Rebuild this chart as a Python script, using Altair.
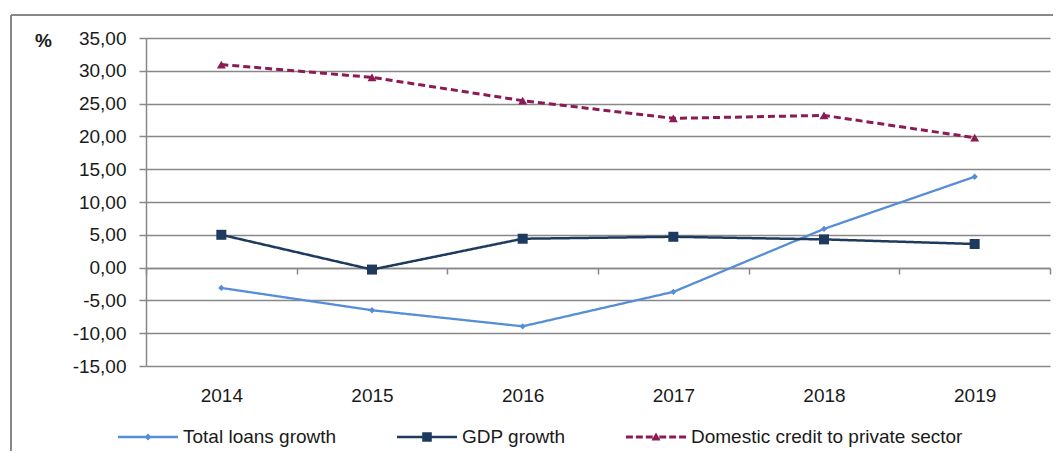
import altair as alt
import pandas as pd

years = ["2014", "2015", "2016", "2017", "2018", "2019"]
total_loans = [-3.1, -6.5, -8.95, -3.7, 5.9, 13.85]
gdp_growth = [5.0, -0.3, 4.4, 4.7, 4.3, 3.6]
domestic_credit = [30.95, 29.0, 25.45, 22.75, 23.2, 19.8]

series_names = ["Total loans growth", "GDP growth", "Domestic credit to private sector"]
colors = ["#558ED5", "#1F3A5F", "#8B1A55"]
line_widths = [2.3, 2.5, 3.0]
dashes = [[1, 0], [1, 0], [7, 4]]
shapes = ["diamond", "square", "triangle-up"]
shape_sizes = [40, 100, 80]

rows = []
for name, vals in zip(series_names, [total_loans, gdp_growth, domestic_credit]):
    for yr, v in zip(years, vals):
        rows.append({"year": yr, "value": v, "series": name})
df = pd.DataFrame(rows)

FONT = "Liberation Sans"
GRAY = "#888888"
TXT = "#1a1a1a"

x_enc = alt.X(
    "year:O",
    bandPosition=0.5,
    scale=alt.Scale(type="band", paddingInner=0, paddingOuter=0),
    axis=alt.Axis(
        title=None, offset=-98, domainColor=GRAY, domainWidth=1.5,
        tickColor=GRAY, tickWidth=1.5, tickSize=6, tickBand="extent",
        labelPadding=112, labelFontSize=19, labelFont=FONT, labelColor=TXT,
        labelAngle=0, grid=False,
    ),
)
y_enc = alt.Y(
    "value:Q",
    scale=alt.Scale(domain=[-15, 35], nice=False, zero=False),
    axis=alt.Axis(
        values=list(range(-15, 40, 5)),
        labelExpr="replace(replace(format(datum.value, '.2f'), '.', ','), '\u2212', '-')",
        title="%", titleAngle=0, titleX=-103, titleY=2, titleAlign="center",
        titleBaseline="middle", titleFontWeight="bold", titleFontSize=19,
        titleFont=FONT, titleColor=TXT,
        grid=True, gridColor=GRAY, gridWidth=1.5,
        domainColor=GRAY, domainWidth=1.5, tickColor=GRAY, tickWidth=1.5,
        tickSize=7, labelPadding=13, labelFontSize=19, labelFont=FONT,
        labelColor=TXT,
    ),
)

layers = []

# outer frame (decoration)
one = alt.Data(values=[{"a": 1}])
layers.append(alt.Chart(one).mark_rule(color=GRAY, strokeWidth=2).encode(
    x=alt.value(-135), x2=alt.value(915), y=alt.value(-23)))
layers.append(alt.Chart(one).mark_rule(color=GRAY, strokeWidth=2).encode(
    x=alt.value(-135), y=alt.value(-23), y2=alt.value(420)))

for name, col, lw, dash in zip(series_names, colors, line_widths, dashes):
    layers.append(
        alt.Chart(df).transform_filter(alt.datum.series == name)
        .mark_line(color=col, strokeWidth=lw, strokeDash=dash)
        .encode(x=x_enc, y=y_enc)
    )
for name, col, shp, sz in zip(series_names, colors, shapes, shape_sizes):
    layers.append(
        alt.Chart(df).transform_filter(alt.datum.series == name)
        .mark_point(color=col, filled=True, shape=shp, size=sz, opacity=1)
        .encode(x=x_enc, y=y_enc)
    )

# legend symbols: line + marker paths (unit box -1..1 = 60px)
def rect(a, b, h):
    return f"M{a},{-h}H{b}V{h}H{a}Z"

p_loans = rect(-1, 1, 0.04) + "M0,-0.12L0.12,0L0,0.12L-0.12,0Z"
p_gdp = rect(-1, 1, 0.042) + "M-0.16,-0.16H0.16V0.16H-0.16Z"
dash_segs = [(-1, -0.77), (-0.67, -0.44), (-0.34, -0.11), (0.11, 0.34), (0.44, 0.67), (0.77, 1)]
p_credit = "".join(rect(a, b, 0.05) for a, b in dash_segs) + "M0,-0.15L0.15,0.12L-0.15,0.12Z"
legend_paths = [p_loans, p_gdp, p_credit]

leg = alt.Legend(
    title=None, orient="none", legendX=-28, legendY=369, direction="horizontal",
    symbolSize=3600, symbolOpacity=1, symbolStrokeWidth=0,
    labelFontSize=19, labelFont=FONT, labelColor=TXT, labelOffset=5,
    labelLimit=600, columnPadding=60,
)
layers.append(
    alt.Chart(df).mark_point(filled=True, opacity=0).encode(
        x=x_enc, y=y_enc,
        color=alt.Color("series:N", scale=alt.Scale(domain=series_names, range=colors), legend=leg),
        shape=alt.Shape("series:N", scale=alt.Scale(domain=series_names, range=legend_paths), legend=leg),
    )
)

chart = alt.layer(*layers).properties(
    width=904, height=328,
    autosize=alt.AutoSizeParams(type="none"),
    padding={"left": 138, "top": 30, "right": 3, "bottom": 85},
).configure_view(stroke=None)

chart.save("out.html", embed_options={"renderer": "svg", "actions": False})
